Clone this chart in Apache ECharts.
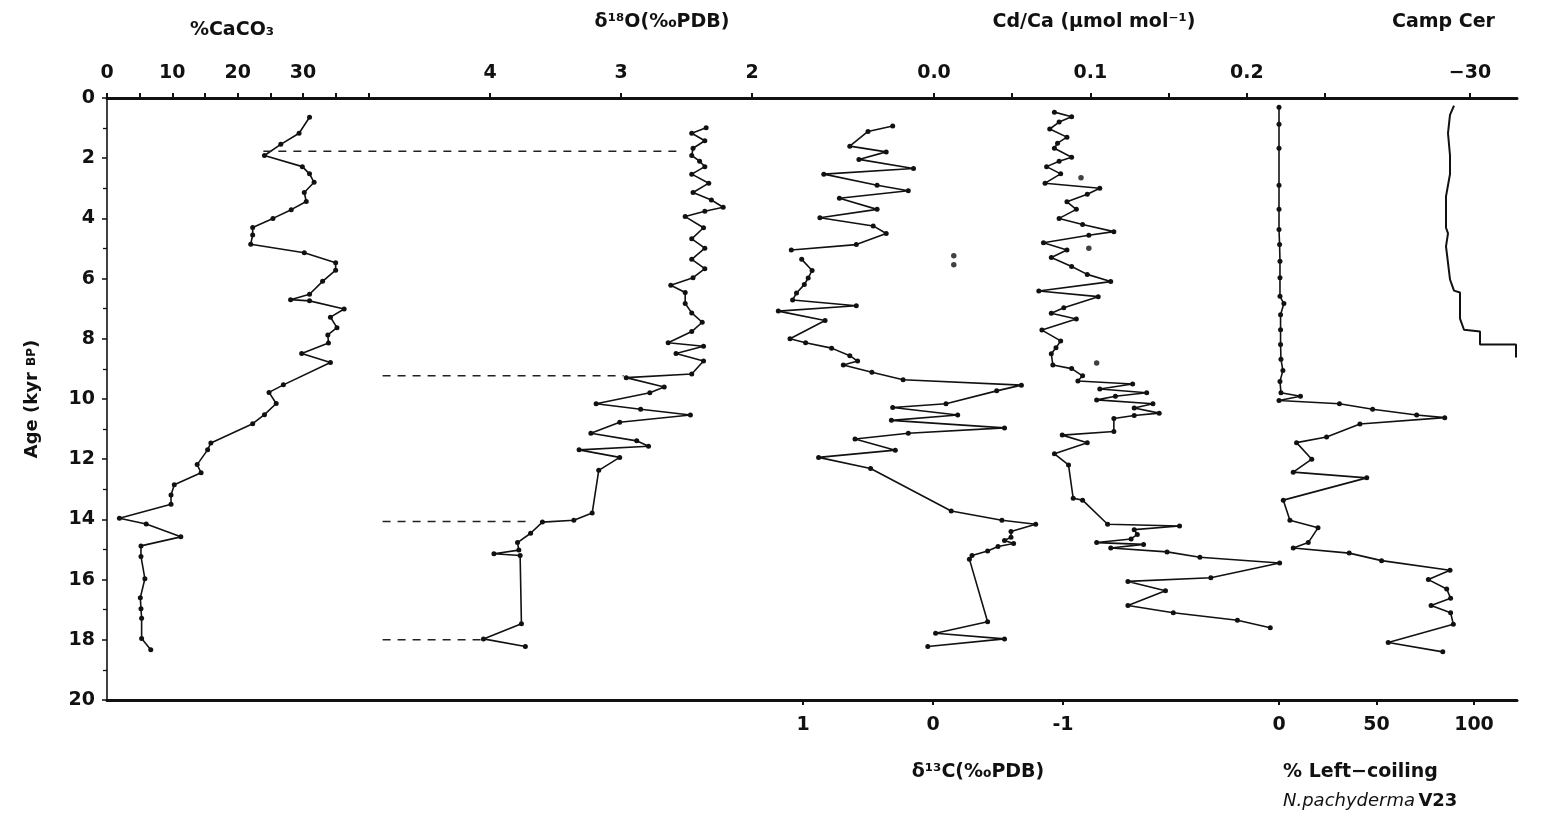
<!DOCTYPE html>
<html>
<head>
<meta charset="utf-8">
<script src="https://cdn.jsdelivr.net/npm/echarts@6/dist/echarts.min.js"></script>
<style>html,body{margin:0;padding:0;background:#fff;}#c{width:1549px;height:820px;}</style>
</head>
<body>
<div id="c"></div>
<script>
// ---------------- DATA (age in kyr BP, value) ----------------
const ageTicks = [0,2,4,6,8,10,12,14,16,18,20];

const caco3Age = [0.64,1.17,1.54,1.91,2.28,2.52,2.80,3.14,3.44,3.71,4.0,4.3,4.55,4.86,5.14,5.47,5.72,6.09,6.52,6.70,6.74,7.01,7.28,7.63,7.87,8.14,8.49,8.79,9.53,9.78,10.15,10.52,10.82,11.46,11.69,12.18,12.45,12.85,13.19,13.5,13.96,14.15,14.58,14.88,15.23,15.97,16.6,16.97,17.28,17.96,18.33];
const caco3Val = [31.0,29.4,26.6,24.1,29.9,31.0,31.7,30.2,30.5,28.2,25.4,22.3,22.3,22.0,30.2,35.0,35.0,33.0,31.0,28.1,31.0,36.3,34.2,35.2,33.8,33.9,29.8,34.2,27.0,24.8,25.9,24.1,22.3,15.9,15.4,13.8,14.4,10.3,9.8,9.8,1.9,6.0,11.3,5.2,5.2,5.8,5.1,5.2,5.3,5.3,6.7];

const d18oAge = [0.99,1.17,1.42,1.67,1.91,2.1,2.28,2.53,2.83,3.14,3.39,3.63,3.76,3.94,4.31,4.68,4.99,5.36,5.67,5.97,6.22,6.46,6.83,7.14,7.45,7.76,8.13,8.25,8.49,8.74,9.17,9.29,9.60,9.79,10.16,10.34,10.53,10.77,11.14,11.39,11.57,11.69,11.94,12.37,13.79,14.03,14.09,14.46,14.77,15.02,15.14,15.2,17.47,17.97,18.22];
const d18oVal = [2.35,2.46,2.36,2.45,2.46,2.40,2.36,2.46,2.33,2.45,2.31,2.22,2.36,2.51,2.37,2.46,2.36,2.46,2.36,2.45,2.62,2.51,2.51,2.46,2.38,2.46,2.64,2.37,2.58,2.37,2.46,2.96,2.67,2.78,3.19,2.85,2.47,3.01,3.23,2.88,2.79,3.32,3.01,3.17,3.22,3.36,3.60,3.69,3.79,3.78,3.97,3.77,3.76,4.05,3.73];

// dashed correlation lines (drawn on the d18O scale)
const dashAge   = [1.77, 9.23, 14.07, 18.0];
const dashStart = [5.73, 4.82, 4.82, 4.82];
const dashEnd   = [2.57, 2.98, 3.69, 4.06];

const d13cAge = [0.93,1.11,1.60,1.79,2.04,2.34,2.53,2.90,3.08,3.33,3.70,3.98,4.25,4.50,4.87,5.05,null,5.36,5.73,5.98,6.2,6.48,6.71,6.90,7.08,7.39,8.0,8.13,8.31,8.56,8.74,8.87,9.11,9.36,9.54,9.73,10.16,10.28,10.53,10.71,10.96,11.14,11.33,11.70,11.94,12.31,13.72,14.03,14.16,14.4,14.59,14.7,14.8,14.9,15.05,15.2,15.32,17.4,17.78,17.97,18.22];
const d13cVal = [0.31,0.50,0.64,0.36,0.57,0.15,0.84,0.43,0.19,0.72,0.43,0.87,0.46,0.36,0.59,1.09,null,1.01,0.93,0.96,0.99,1.05,1.08,0.59,1.19,0.83,1.10,0.98,0.78,0.64,0.58,0.69,0.47,0.23,-0.68,-0.49,-0.10,0.31,-0.19,0.32,-0.55,0.19,0.60,0.29,0.88,0.48,-0.14,-0.53,-0.79,-0.60,-0.60,-0.55,-0.62,-0.50,-0.42,-0.30,-0.28,-0.42,-0.02,-0.55,0.04];
const d13cDotAge = [5.24, 5.54];
const d13cDotVal = [-0.16, -0.16];

const cdcaAge = [0.47,0.62,0.8,1.03,1.3,1.5,1.67,1.97,2.1,2.28,2.52,2.83,3.0,3.2,3.45,3.7,4.0,4.2,4.44,4.56,4.81,5.05,5.3,5.6,5.86,6.1,6.41,6.6,6.97,7.15,7.34,7.71,8.07,8.3,8.5,8.87,8.99,9.23,9.4,9.5,9.67,9.79,9.91,10.03,10.16,10.3,10.47,10.55,10.65,11.08,11.2,11.45,11.82,12.19,13.3,13.36,14.16,14.22,14.34,14.5,14.65,14.77,14.83,14.95,15.08,15.26,15.45,15.94,16.06,16.37,16.86,17.1,17.35,17.6];
const cdcaVal = [0.077,0.088,0.080,0.074,0.085,0.079,0.077,0.088,0.080,0.072,0.081,0.071,0.106,0.098,0.085,0.091,0.080,0.095,0.115,0.099,0.070,0.085,0.075,0.088,0.098,0.113,0.067,0.105,0.083,0.075,0.091,0.069,0.081,0.078,0.075,0.076,0.088,0.095,0.092,0.127,0.106,0.136,0.116,0.104,0.140,0.128,0.144,0.128,0.115,0.115,0.082,0.098,0.077,0.086,0.089,0.095,0.111,0.157,0.128,0.130,0.126,0.104,0.134,0.113,0.149,0.170,0.221,0.177,0.124,0.148,0.124,0.153,0.194,0.215];
const cdcaDotAge = [2.65, 4.99, 8.8];
const cdcaDotVal = [0.094, 0.099, 0.104];

const campAge = [0.25,0.56,1.17,1.91,2.53,2.90,3.27,3.76,4.31,4.50,4.93,5.48,6.03,6.40,6.46,7.33,7.70,7.76,8.19,8.19,8.62];
const campVal = [-29.2,-29.0,-28.9,-29.0,-29.0,-28.9,-28.8,-28.8,-28.8,-28.9,-28.8,-28.9,-29.0,-29.2,-29.5,-29.5,-29.7,-30.5,-30.5,-32.3,-32.3];

const lcAge = [0.31,0.87,1.67,2.9,3.7,4.37,4.87,5.42,5.97,6.59,6.83,7.2,7.7,8.19,8.68,9.05,9.42,9.79,9.91,10.05,10.16,10.34,10.53,10.62,10.83,11.26,11.45,12.0,12.43,12.62,13.36,14.03,14.28,14.77,14.95,15.12,15.37,15.69,16.0,16.31,16.62,16.86,17.1,17.48,18.09,18.4];
const lcVal = [0,0,0,0,0,0,0.3,0.5,0.5,0.5,2.5,0.8,0.8,0.8,1,2,0.5,1,11,0,31,48,70.6,85,41.5,24.4,9,16.8,7.3,45,2.2,5.6,20,15,7.3,36,52.6,87.7,76.6,86,88,78,88,89.4,56,84];

// tick marks / labels of each scale
const caco3Ticks = [0,5,10,15,20,25,30,35,40];
const caco3Labels = [0,10,20,30];
const d18oTicks = [4,3,2];
const cdcaTicks = [0,0.05,0.1,0.15,0.2,0.25];
const cdcaLabels = [0,0.1,0.2];
const campTicks = [-30];
const d13cTicks = [1,0,-1];
const lcTicks = [0,50,100];

// ---------------- LAYOUT ----------------
const L = 107, R = 1517, T = 98, B = 700;
function span(anchorPx, anchorVal, ppu, inverse) {
  if (!inverse) return {min: anchorVal - (anchorPx - L)/ppu, max: anchorVal + (R - anchorPx)/ppu};
  return {max: anchorVal + (anchorPx - L)/ppu, min: anchorVal - (R - anchorPx)/ppu};
}
const FONT = 'DejaVu Sans';
const labelStyle = {fontFamily: FONT, fontWeight: 'bold', fontSize: 19, color: '#111'};

function xAx(pos, sp, inverse, ticks, labels, fmt, showLine) {
  return {
    type: 'value', position: pos, min: sp.min, max: sp.max, inverse: !!inverse,
    axisLine: {show: !!showLine, onZero: false, lineStyle: {color: '#111', width: 3}},
    axisTick: {show: true, customValues: ticks, length: 5, lineStyle: {color: '#111', width: 2}},
    axisLabel: Object.assign({show: true, customValues: labels, margin: pos === 'top' ? 15 : 16,
      formatter: fmt || (v => String(v))}, labelStyle),
    splitLine: {show: false}
  };
}

const xAxes = [
  xAx('top', span(L, 0, 6.533, false), false, caco3Ticks, caco3Labels, null, true),
  xAx('top', span(490, 4, 131, true), true, d18oTicks, d18oTicks, null, false),
  xAx('top', span(934, 0, 1564, false), false, cdcaTicks, cdcaLabels, v => v.toFixed(1), false),
  xAx('top', span(1470, -30, 20, true), true, campTicks, campTicks, v => '\u2212' + Math.abs(v), false),
  xAx('bottom', span(933, 0, 130, true), true, d13cTicks, d13cTicks, v => v < 0 ? '-' + Math.abs(v) : String(v), true),
  xAx('bottom', span(1279, 0, 1.95, false), false, lcTicks, lcTicks, null, false)
];

function pairs(vals, ages) {
  return vals.map((v, i) => (v === null || ages[i] === null) ? '-' : [v, ages[i]]);
}
function lineSeries(xi, vals, ages) {
  return {
    type: 'line', xAxisIndex: xi, yAxisIndex: 0, data: pairs(vals, ages),
    symbol: 'circle', symbolSize: 5, showSymbol: true, connectNulls: false,
    lineStyle: {color: '#111', width: 1.6}, itemStyle: {color: '#111'},
    animation: false, silent: true
  };
}
function dotSeries(xi, vals, ages) {
  return {type: 'scatter', xAxisIndex: xi, yAxisIndex: 0, data: pairs(vals, ages),
    symbolSize: 5.5, itemStyle: {color: '#111'}, animation: false, silent: true};
}

const series = [
  lineSeries(0, caco3Val, caco3Age),
  lineSeries(1, d18oVal, d18oAge),
  lineSeries(4, d13cVal, d13cAge),
  dotSeries(4, d13cDotVal, d13cDotAge),
  lineSeries(2, cdcaVal, cdcaAge),
  dotSeries(2, cdcaDotVal, cdcaDotAge),
  Object.assign(lineSeries(3, campVal, campAge), {symbol: 'none', lineStyle: {color: '#111', width: 2}}),
  lineSeries(5, lcVal, lcAge)
];
dashAge.forEach((a, i) => {
  series.push({type: 'line', xAxisIndex: 1, yAxisIndex: 0, symbol: 'none', animation: false, silent: true,
    data: [[dashStart[i], a], [dashEnd[i], a]],
    lineStyle: {color: '#222', width: 1.6, type: [8, 7]}});
});

const TF = 'bold 19px "DejaVu Sans"';
const option = {
  backgroundColor: '#fff',
  animation: false,
  grid: {left: L, right: 1549 - R, top: T, bottom: 820 - B, containLabel: false},
  xAxis: xAxes,
  yAxis: [{
    type: 'value', inverse: true, min: 0, max: 20, interval: 2,
    name: '{a|Age (kyr }{b|BP}{a|)}', nameLocation: 'middle', nameGap: 66, nameRotate: 90,
    nameTextStyle: {rich: {a: {fontFamily: FONT, fontWeight: 'bold', fontSize: 18, color: '#111'},
                           b: {fontFamily: FONT, fontWeight: 'bold', fontSize: 12, color: '#111'}}},
    axisLine: {show: true, lineStyle: {color: '#111', width: 1.6}},
    axisTick: {show: true, length: 5, lineStyle: {color: '#111', width: 1.5}},
    minorTick: {show: true, splitNumber: 2, length: 4, lineStyle: {color: '#111', width: 1.3}},
    axisLabel: Object.assign({margin: 12, customValues: ageTicks}, labelStyle),
    splitLine: {show: false}
  }],
  graphic: [
    {type: 'text', x: 232, y: 30, style: {text: '%CaCO\u2083', align: 'center', verticalAlign: 'middle', font: TF, fill: '#111'}},
    {type: 'text', x: 662, y: 22, style: {text: '\u03b4\u00b9\u2078O(\u2030PDB)', align: 'center', verticalAlign: 'middle', font: TF, fill: '#111'}},
    {type: 'text', x: 1094, y: 22, style: {text: 'Cd/Ca (\u03bcmol mol\u207b\u00b9)', align: 'center', verticalAlign: 'middle', font: TF, fill: '#111'}},
    {type: 'text', x: 1392, y: 22, style: {text: 'Camp Cer', align: 'left', verticalAlign: 'middle', font: TF, fill: '#111'}},
    {type: 'text', x: 978, y: 772, style: {text: '\u03b4\u00b9\u00b3C(\u2030PDB)', align: 'center', verticalAlign: 'middle', font: TF, fill: '#111'}},
    {type: 'text', x: 1283, y: 772, style: {text: '% Left\u2212coiling', align: 'left', verticalAlign: 'middle', font: TF, fill: '#111'}},
    {type: 'text', x: 1283, y: 801, style: {text: '{i|N.pachyderma} {n|V23}', align: 'left', verticalAlign: 'middle',
      rich: {i: {fontFamily: FONT, fontStyle: 'italic', fontSize: 18, fill: '#111'},
             n: {fontFamily: FONT, fontWeight: 'bold', fontSize: 18, fill: '#111'}}}}
  ],
  series: series
};

const chart = echarts.init(document.getElementById('c'), null, {renderer: 'canvas'});
chart.setOption(option);
</script>
</body>
</html>
